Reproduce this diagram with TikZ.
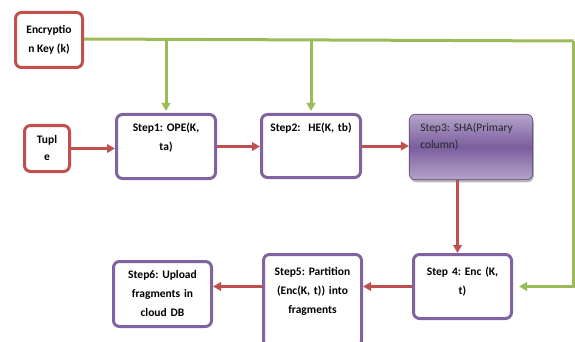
\documentclass[tikz,border=0pt]{standalone}
\usepackage{fontspec}
\setmainfont{Carlito}
\usetikzlibrary{arrows.meta,shadows}

\definecolor{keyred}{HTML}{C0504D}
\definecolor{steppurple}{HTML}{8064A2}
\definecolor{keygreen}{HTML}{9BBB59}
\definecolor{shalight}{HTML}{B5A4CA}
\definecolor{shadark}{HTML}{7A5E9E}

\newcommand{\stepfont}{\fontsize{11.5}{19}\selectfont\bfseries\frenchspacing}

\tikzset{
    inbox/.style={draw=keyred,line width=3pt,rounded corners=6pt,fill=white,align=center,font=\stepfont,inner sep=0pt},
    stepbox/.style={draw=steppurple,line width=3pt,rounded corners=6pt,fill=white,align=center,font=\stepfont,inner sep=0pt},
    redarrow/.style={draw=keyred,line width=3pt,-{Triangle[length=8pt,width=8.5pt]}},
    greenarrow/.style={draw=keygreen,line width=3pt,-{Triangle[length=8pt,width=8.5pt]}}
}

\begin{document}
\begin{tikzpicture}[x=1pt,y=-1pt]
        \useasboundingbox (0,0) rectangle (575,342);
        %% Inputs
        \node[inbox,minimum width=67pt,minimum height=55pt] (key) at (49,40) {Encryptio\\n Key (k)};
        \node[inbox,minimum width=45pt,minimum height=46pt] (tuple) at (47,148.5) {Tupl\\[-2pt]e};
        %% Steps
        \node[stepbox,text width=99pt,text height=17pt,text depth=47pt] (s1) at (166,146.5) {Step1: OPE(K,\\ta)};
        \node[stepbox,text width=99pt,text height=17pt,text depth=46pt] (s2) at (311,146) {Step2:\ \ HE(K, tb)};
        \node[draw=steppurple!70!black,line width=0.6pt,rounded corners=6pt,top color=shalight,bottom color=shalight,middle color=shadark,
              drop shadow={shadow xshift=1pt,shadow yshift=-2.5pt,fill=black!45,opacity=0.6},
              align=left,font=\fontsize{11.5}{17}\selectfont\frenchspacing,text=black!85,inner xsep=11pt,inner ysep=0pt,
              text width=101.5pt,text height=17.25pt,text depth=48.25pt] (s3) at (471,147) {Step3: SHA(Primary\\column)};
        \node[stepbox,text width=98pt,text height=21pt,text depth=43pt] (s4) at (462.5,286.5) {Step 4: Enc (K,\\t)};
        \node[stepbox,text width=98pt,text height=21pt,text depth=71pt] (s5) at (312.5,300.5) {Step5: Partition\\(Enc(K, t)) into\\fragments};
        \node[stepbox,minimum width=98pt,minimum height=65pt,text width=98pt] (s6) at (162.5,294) {Step6: Upload\\fragments in\\cloud DB};
        %% Key lines
        \coordinate (rc) at (573.5,41);
        \draw[keygreen,line width=3pt] ([yshift=1pt]key.east) -- (rc);
        \draw[greenarrow,shorten >=2pt] (s1.north |- rc) -- (s1.north);
        \draw[greenarrow,shorten >=2pt] (s2.north |- rc) -- (s2.north);
        \draw[greenarrow,shorten >=6pt] (rc) |- (s4.east);
        %% Flow
        \draw[redarrow] (tuple.east) -- (tuple.east -| s1.west);
        \draw[redarrow] (s1.east) -- (s1.east -| s2.west);
        \draw[redarrow] (s2.east) -- (s2.east -| s3.west);
        \draw[redarrow] ([xshift=-5pt]s4.north |- s3.south) -- ([xshift=-5pt]s4.north);
        \draw[redarrow] (s4.west) -- (s4.west -| s5.east);
        \draw[redarrow] (s4.west -| s5.west) -- (s4.west -| s6.east);
    \end{tikzpicture}
\end{document}
